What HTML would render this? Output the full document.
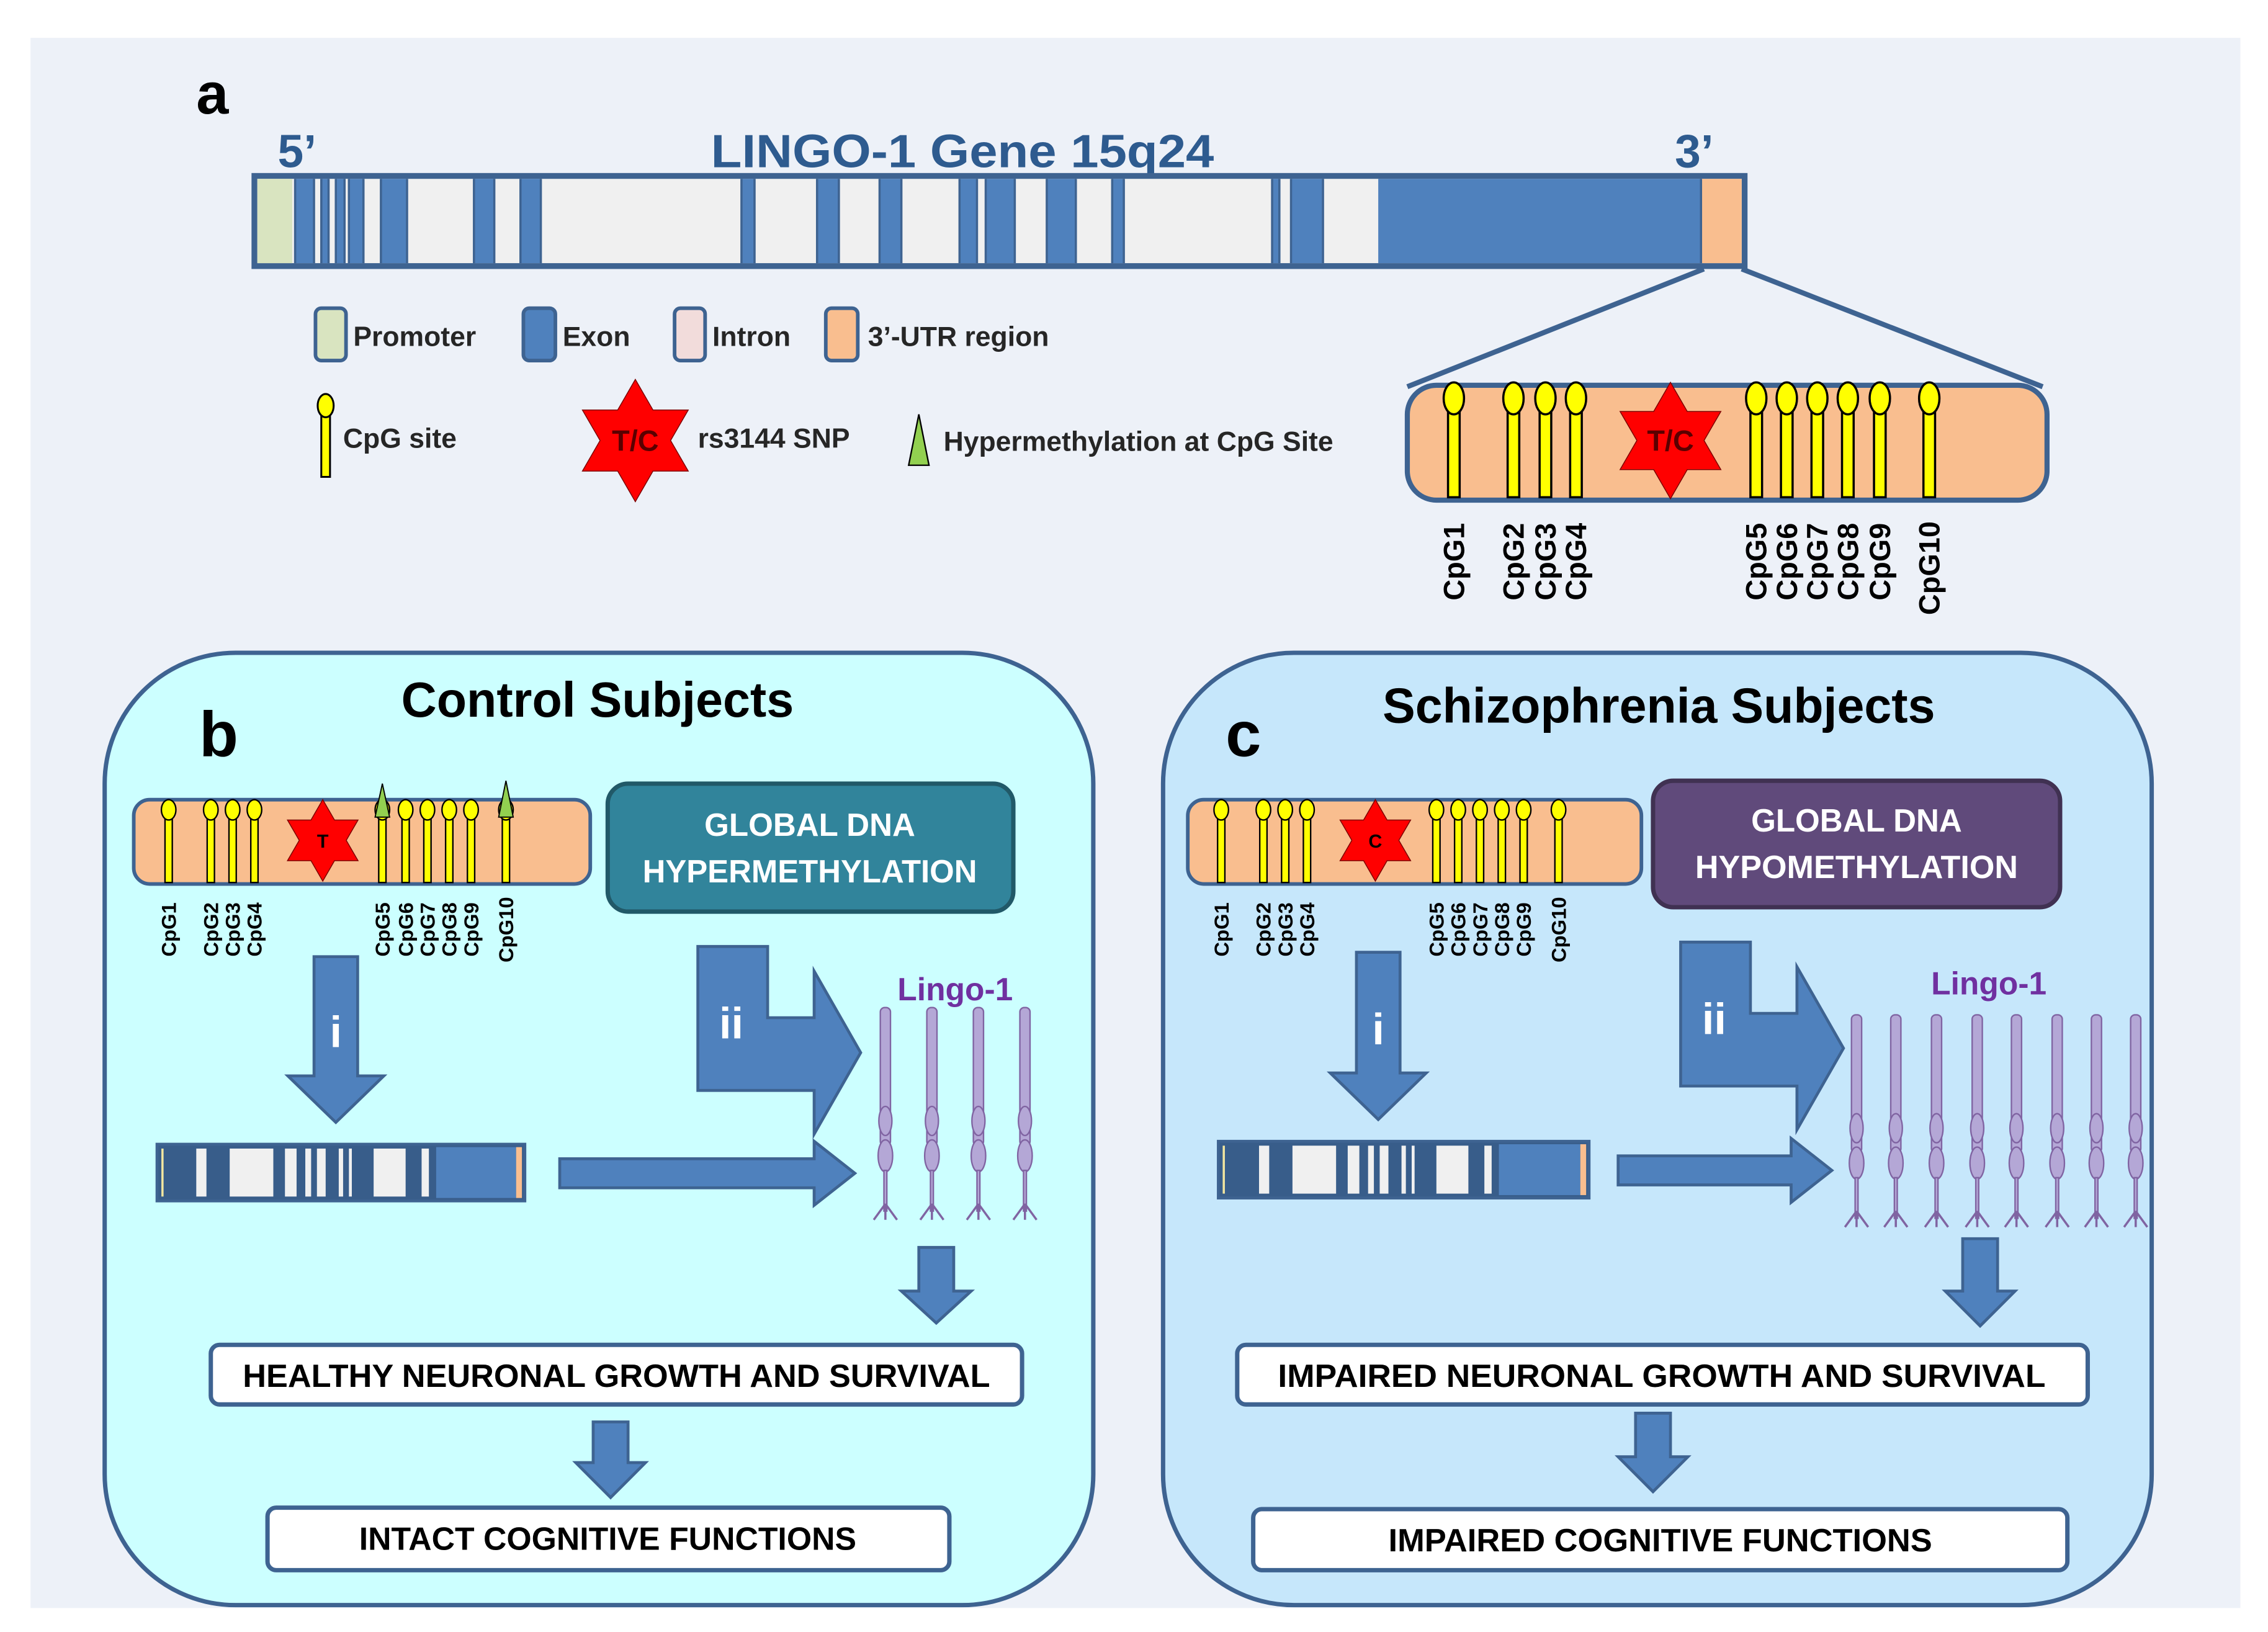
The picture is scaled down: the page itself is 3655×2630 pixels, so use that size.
<!DOCTYPE html>
<html><head><meta charset="utf-8"><style>
html,body{margin:0;padding:0;background:#fff;}
svg{display:block;}
text{font-family:"Liberation Sans",sans-serif;font-weight:bold;}
</style></head><body>
<svg width="3655" height="2630" viewBox="0 0 1560 1122.5" xmlns="http://www.w3.org/2000/svg">
<defs>
<g id="lolB"><rect x="-4" y="0" width="8" height="68" fill="#ffff00" stroke="#000" stroke-width="1.5"/><ellipse cx="0" cy="0" rx="7" ry="11" fill="#ffff00" stroke="#000" stroke-width="1.5"/></g>
<g id="lolS"><rect x="-2.5" y="0" width="5" height="50" fill="#ffff00" stroke="#000" stroke-width="1"/><ellipse cx="0" cy="0" rx="5" ry="7" fill="#ffff00" stroke="#000" stroke-width="1"/></g>
<polygon id="star" points="0,-1 0.2887,-0.5 0.866,-0.5 0.577,0 0.866,0.5 0.2887,0.5 0,1 -0.2887,0.5 -0.866,0.5 -0.577,0 -0.866,-0.5 -0.2887,-0.5" fill="#ff0000" stroke="#7f0000" stroke-width="1.5" vector-effect="non-scaling-stroke"/>
<g id="rec" fill="#b4a7d6" stroke="#8064a2" stroke-width="1">
<rect x="-3.5" y="0" width="7" height="95" rx="3"/>
<ellipse cx="0" cy="78" rx="4.5" ry="10"/>
<ellipse cx="0" cy="102" rx="5" ry="11"/>
<rect x="-1" y="112" width="2" height="28"/>
<path d="M0,135 L-8,146 M0,135 L0,146 M0,135 L8,146" fill="none" stroke="#8064a2" stroke-width="1.5"/>
</g>
</defs>
<rect x="21" y="26" width="1520" height="1080" fill="#edf1f8"/>

<!-- panel a -->
<text x="135" y="78" font-size="40" fill="#000">a</text>
<text x="191" y="115" font-size="32" fill="#2e5b8f">5’</text>
<text x="662" y="115" font-size="32" fill="#2e5b8f" text-anchor="middle" textLength="346" lengthAdjust="spacingAndGlyphs">LINGO-1 Gene 15q24</text>
<text x="1152" y="115" font-size="32" fill="#2e5b8f">3’</text>

<rect x="175" y="121" width="1025" height="62" fill="#f0f0f0" stroke="#3e6391" stroke-width="4"/>
<g fill="#4f81bd">
<rect x="177" y="123" width="24" height="58" fill="#d9e4c0"/>
<rect x="203" y="123" width="13" height="58"/>
<rect x="221" y="123" width="5" height="58"/>
<rect x="231" y="123" width="6" height="58"/>
<rect x="240" y="123" width="10" height="58"/>
<rect x="262" y="123" width="18" height="58"/>
<rect x="326" y="123" width="14" height="58"/>
<rect x="358" y="123" width="14" height="58"/>
<rect x="510" y="123" width="9" height="58"/>
<rect x="562" y="123" width="15" height="58"/>
<rect x="605" y="123" width="15" height="58"/>
<rect x="660" y="123" width="12" height="58"/>
<rect x="678" y="123" width="20" height="58"/>
<rect x="720" y="123" width="20" height="58"/>
<rect x="765" y="123" width="8" height="58"/>
<rect x="875" y="123" width="5" height="58"/>
<rect x="888" y="123" width="22" height="58"/>
<rect x="948" y="123" width="222" height="58"/>
<rect x="1170" y="123" width="28" height="58" fill="#f9be8f"/>
</g>
<g stroke="#3e6391" stroke-width="1.5" fill="none">
<path d="M203,123V181M216,123V181M221,123V181M226,123V181M231,123V181M237,123V181M240,123V181M250,123V181M262,123V181M280,123V181M326,123V181M340,123V181M358,123V181M372,123V181M510,123V181M519,123V181M562,123V181M577,123V181M605,123V181M620,123V181M660,123V181M672,123V181M678,123V181M698,123V181M720,123V181M740,123V181M765,123V181M773,123V181M875,123V181M880,123V181M888,123V181M910,123V181M1170,123V181"/>
</g>
<path d="M1172,185 L968,266 M1198,185 L1405,266" stroke="#3e6391" stroke-width="3.5" fill="none"/>

<!-- legend -->
<rect x="217" y="212" width="21" height="36" rx="4" fill="#d9e4c0" stroke="#3e6391" stroke-width="2.5"/>
<text x="243" y="238" font-size="19" fill="#262626">Promoter</text>
<rect x="360" y="212" width="22" height="36" rx="4" fill="#4f81bd" stroke="#3e6391" stroke-width="2.5"/>
<text x="387" y="238" font-size="19" fill="#262626">Exon</text>
<rect x="464" y="212" width="21" height="36" rx="4" fill="#f2dcdb" stroke="#3e6391" stroke-width="2.5"/>
<text x="490" y="238" font-size="19" fill="#262626">Intron</text>
<rect x="568" y="212" width="22" height="36" rx="4" fill="#f9be8f" stroke="#3e6391" stroke-width="2.5"/>
<text x="597" y="238" font-size="19" fill="#262626">3’-UTR region</text>

<g transform="translate(224,279)"><rect x="-3" y="0" width="6" height="49" fill="#ffff00" stroke="#000" stroke-width="1.3"/><ellipse cx="0" cy="0" rx="5.5" ry="8" fill="#ffff00" stroke="#000" stroke-width="1.3"/></g>
<text x="236" y="308" font-size="19" fill="#262626">CpG site</text>
<use href="#star" transform="translate(437,303) scale(42)"/>
<text x="437" y="310" font-size="20" fill="#5a0000" text-anchor="middle" font-weight="normal">T/C</text>
<text x="480" y="308" font-size="19" fill="#262626">rs3144 SNP</text>
<polygon points="632,285 639,320 625,320" fill="#92d050" stroke="#000" stroke-width="1"/>
<text x="649" y="310" font-size="19" fill="#262626">Hypermethylation at CpG Site</text>

<!-- zoom box -->
<rect x="968" y="265" width="440" height="79" rx="20" fill="#f9be8f" stroke="#3e6391" stroke-width="3.5"/>
<use href="#lolB" x="1000" y="274"/><use href="#lolB" x="1041" y="274"/><use href="#lolB" x="1063" y="274"/><use href="#lolB" x="1084" y="274"/>
<use href="#lolB" x="1208" y="274"/><use href="#lolB" x="1229" y="274"/><use href="#lolB" x="1250" y="274"/><use href="#lolB" x="1271" y="274"/><use href="#lolB" x="1293" y="274"/><use href="#lolB" x="1327" y="274"/>
<use href="#star" transform="translate(1149,303) scale(40)"/>
<text x="1149" y="310" font-size="20" fill="#5a0000" text-anchor="middle" font-weight="normal">T/C</text>
<g font-size="20" fill="#000">
<text transform="translate(1007,413) rotate(-90)">CpG1</text>
<text transform="translate(1048,413) rotate(-90)">CpG2</text>
<text transform="translate(1070,413) rotate(-90)">CpG3</text>
<text transform="translate(1091,413) rotate(-90)">CpG4</text>
<text transform="translate(1215,413) rotate(-90)">CpG5</text>
<text transform="translate(1236,413) rotate(-90)">CpG6</text>
<text transform="translate(1257,413) rotate(-90)">CpG7</text>
<text transform="translate(1278,413) rotate(-90)">CpG8</text>
<text transform="translate(1300,413) rotate(-90)">CpG9</text>
<text transform="translate(1334,423) rotate(-90)">CpG10</text>
</g>

<!-- panel b -->
<rect x="72" y="449" width="680" height="655" rx="90" fill="#ccffff" stroke="#3e6391" stroke-width="3"/>
<text x="411" y="493" font-size="34" fill="#000" text-anchor="middle" textLength="270" lengthAdjust="spacingAndGlyphs">Control Subjects</text>
<text x="137" y="520" font-size="44" fill="#000">b</text>
<rect x="92" y="550" width="314" height="58" rx="11" fill="#f9be8f" stroke="#3e6391" stroke-width="2.5"/>
<use href="#lolS" x="116" y="557"/><use href="#lolS" x="145" y="557"/><use href="#lolS" x="160" y="557"/><use href="#lolS" x="175" y="557"/>
<use href="#lolS" x="263" y="557"/><use href="#lolS" x="279" y="557"/><use href="#lolS" x="294" y="557"/><use href="#lolS" x="309" y="557"/><use href="#lolS" x="324" y="557"/><use href="#lolS" x="348" y="557"/>
<polygon points="263,539 268,562 258,562" fill="#92d050" stroke="#000" stroke-width="0.8"/>
<polygon points="348,537 353,562 343,562" fill="#92d050" stroke="#000" stroke-width="0.8"/>
<use href="#star" transform="translate(222,578) scale(28)"/>
<text x="222" y="583" font-size="13" fill="#000" text-anchor="middle">T</text>
<g font-size="14" fill="#000">
<text transform="translate(121,658) rotate(-90)">CpG1</text>
<text transform="translate(150,658) rotate(-90)">CpG2</text>
<text transform="translate(165,658) rotate(-90)">CpG3</text>
<text transform="translate(180,658) rotate(-90)">CpG4</text>
<text transform="translate(268,658) rotate(-90)">CpG5</text>
<text transform="translate(284,658) rotate(-90)">CpG6</text>
<text transform="translate(299,658) rotate(-90)">CpG7</text>
<text transform="translate(314,658) rotate(-90)">CpG8</text>
<text transform="translate(329,658) rotate(-90)">CpG9</text>
<text transform="translate(353,662) rotate(-90)">CpG10</text>
</g>
<rect x="418" y="539" width="279" height="88" rx="14" fill="#31849b" stroke="#215968" stroke-width="3"/>
<text x="557" y="575" font-size="22" fill="#fff" text-anchor="middle" textLength="145" lengthAdjust="spacingAndGlyphs">GLOBAL DNA</text>
<text x="557" y="607" font-size="22" fill="#fff" text-anchor="middle" textLength="230" lengthAdjust="spacingAndGlyphs">HYPERMETHYLATION</text>
<polygon points="216,658 246,658 246,740 264,740 231,772 198,740 216,740" fill="#4f81bd" stroke="#3e6391" stroke-width="2"/>
<text x="231" y="720" font-size="30" fill="#fff" text-anchor="middle">i</text>
<rect x="108" y="787" width="253" height="39" fill="#385d8a" stroke="#3e6391" stroke-width="2"/>
<g fill="#f0f0f0">
<rect x="135" y="790" width="7" height="33"/><rect x="158" y="790" width="30" height="33"/><rect x="196" y="790" width="8" height="33"/><rect x="210" y="790" width="4" height="33"/><rect x="218" y="790" width="6" height="33"/><rect x="233" y="790" width="3" height="33"/><rect x="240" y="790" width="2" height="33"/><rect x="257" y="790" width="22" height="33"/><rect x="290" y="790" width="5" height="33"/>
</g>
<rect x="111" y="790" width="1.5" height="33" fill="#f2e6a0"/>
<rect x="300" y="789" width="55" height="35" fill="#4f81bd"/>
<rect x="355" y="789" width="4" height="35" fill="#f9be8f"/>
<polygon points="385,797 560,797 560,785 588,807 560,829 560,817 385,817" fill="#4f81bd" stroke="#3e6391" stroke-width="2"/>
<polygon points="480,651 528,651 528,700 560,700 560,668 592,724 560,780 560,750 480,750" fill="#4f81bd" stroke="#3e6391" stroke-width="2"/>
<text x="503" y="714" font-size="30" fill="#fff" text-anchor="middle">ii</text>
<text x="657" y="688" font-size="22" fill="#7030a0" text-anchor="middle" font-weight="normal">Lingo-1</text>
<use href="#rec" x="609" y="693"/><use href="#rec" x="641" y="693"/><use href="#rec" x="673" y="693"/><use href="#rec" x="705" y="693"/>
<polygon points="632,858 656,858 656,888 668,888 644,910 620,888 632,888" fill="#4f81bd" stroke="#3e6391" stroke-width="2"/>
<rect x="145" y="925" width="558" height="41" rx="6" fill="#fff" stroke="#3e6391" stroke-width="3"/>
<text x="424" y="954" font-size="22" fill="#000" text-anchor="middle" textLength="514" lengthAdjust="spacingAndGlyphs">HEALTHY NEURONAL GROWTH AND SURVIVAL</text>
<polygon points="408,978 432,978 432,1006 444,1006 420,1030 396,1006 408,1006" fill="#4f81bd" stroke="#3e6391" stroke-width="2"/>
<rect x="184" y="1037" width="469" height="43" rx="6" fill="#fff" stroke="#3e6391" stroke-width="3"/>
<text x="418" y="1066" font-size="22" fill="#000" text-anchor="middle" textLength="342" lengthAdjust="spacingAndGlyphs">INTACT COGNITIVE FUNCTIONS</text>

<!-- panel c -->
<rect x="800" y="449" width="680" height="655" rx="90" fill="#c6e7fb" stroke="#3e6391" stroke-width="3"/>
<text x="1141" y="497" font-size="34" fill="#000" text-anchor="middle" textLength="380" lengthAdjust="spacingAndGlyphs">Schizophrenia Subjects</text>
<text x="843" y="520" font-size="44" fill="#000">c</text>
<rect x="817" y="550" width="312" height="58" rx="11" fill="#f9be8f" stroke="#3e6391" stroke-width="2.5"/>
<use href="#lolS" x="840" y="557"/><use href="#lolS" x="869" y="557"/><use href="#lolS" x="884" y="557"/><use href="#lolS" x="899" y="557"/>
<use href="#lolS" x="988" y="557"/><use href="#lolS" x="1003" y="557"/><use href="#lolS" x="1018" y="557"/><use href="#lolS" x="1033" y="557"/><use href="#lolS" x="1048" y="557"/><use href="#lolS" x="1072" y="557"/>
<use href="#star" transform="translate(946,578) scale(28)"/>
<text x="946" y="583" font-size="13" fill="#000" text-anchor="middle">C</text>
<g font-size="14" fill="#000">
<text transform="translate(845,658) rotate(-90)">CpG1</text>
<text transform="translate(874,658) rotate(-90)">CpG2</text>
<text transform="translate(889,658) rotate(-90)">CpG3</text>
<text transform="translate(904,658) rotate(-90)">CpG4</text>
<text transform="translate(993,658) rotate(-90)">CpG5</text>
<text transform="translate(1008,658) rotate(-90)">CpG6</text>
<text transform="translate(1023,658) rotate(-90)">CpG7</text>
<text transform="translate(1038,658) rotate(-90)">CpG8</text>
<text transform="translate(1053,658) rotate(-90)">CpG9</text>
<text transform="translate(1077,662) rotate(-90)">CpG10</text>
</g>
<rect x="1137" y="537" width="280" height="87" rx="14" fill="#604a7b" stroke="#403152" stroke-width="3"/>
<text x="1277" y="572" font-size="22" fill="#fff" text-anchor="middle" textLength="145" lengthAdjust="spacingAndGlyphs">GLOBAL DNA</text>
<text x="1277" y="604" font-size="22" fill="#fff" text-anchor="middle" textLength="222" lengthAdjust="spacingAndGlyphs">HYPOMETHYLATION</text>
<polygon points="933,655 963,655 963,738 981,738 948,770 915,738 933,738" fill="#4f81bd" stroke="#3e6391" stroke-width="2"/>
<text x="948" y="718" font-size="30" fill="#fff" text-anchor="middle">i</text>
<rect x="838" y="785" width="255" height="39" fill="#385d8a" stroke="#3e6391" stroke-width="2"/>
<g fill="#f0f0f0">
<rect x="866" y="788" width="7" height="33"/><rect x="889" y="788" width="30" height="33"/><rect x="927" y="788" width="8" height="33"/><rect x="941" y="788" width="4" height="33"/><rect x="949" y="788" width="6" height="33"/><rect x="964" y="788" width="3" height="33"/><rect x="971" y="788" width="2" height="33"/><rect x="988" y="788" width="22" height="33"/><rect x="1021" y="788" width="5" height="33"/>
</g>
<rect x="841" y="788" width="1.5" height="33" fill="#f2e6a0"/>
<rect x="1031" y="787" width="56" height="35" fill="#4f81bd"/>
<rect x="1087" y="787" width="4" height="35" fill="#f9be8f"/>
<polygon points="1113,795 1232,795 1232,783 1260,805 1232,827 1232,815 1113,815" fill="#4f81bd" stroke="#3e6391" stroke-width="2"/>
<polygon points="1156,648 1204,648 1204,697 1236,697 1236,665 1268,721 1236,777 1236,747 1156,747" fill="#4f81bd" stroke="#3e6391" stroke-width="2"/>
<text x="1179" y="711" font-size="30" fill="#fff" text-anchor="middle">ii</text>
<text x="1368" y="684" font-size="22" fill="#7030a0" text-anchor="middle" font-weight="normal">Lingo-1</text>
<use href="#rec" x="1277" y="698"/><use href="#rec" x="1304" y="698"/><use href="#rec" x="1332" y="698"/><use href="#rec" x="1360" y="698"/><use href="#rec" x="1387" y="698"/><use href="#rec" x="1415" y="698"/><use href="#rec" x="1442" y="698"/><use href="#rec" x="1469" y="698"/>
<polygon points="1350,852 1374,852 1374,888 1386,888 1362,912 1338,888 1350,888" fill="#4f81bd" stroke="#3e6391" stroke-width="2"/>
<rect x="851" y="925" width="585" height="41" rx="6" fill="#fff" stroke="#3e6391" stroke-width="3"/>
<text x="1143" y="954" font-size="22" fill="#000" text-anchor="middle" textLength="528" lengthAdjust="spacingAndGlyphs">IMPAIRED NEURONAL GROWTH AND SURVIVAL</text>
<polygon points="1125,972 1149,972 1149,1002 1161,1002 1137,1026 1113,1002 1125,1002" fill="#4f81bd" stroke="#3e6391" stroke-width="2"/>
<rect x="862" y="1038" width="560" height="42" rx="6" fill="#fff" stroke="#3e6391" stroke-width="3"/>
<text x="1142" y="1067" font-size="22" fill="#000" text-anchor="middle" textLength="374" lengthAdjust="spacingAndGlyphs">IMPAIRED COGNITIVE FUNCTIONS</text>
</svg>
</body></html>
